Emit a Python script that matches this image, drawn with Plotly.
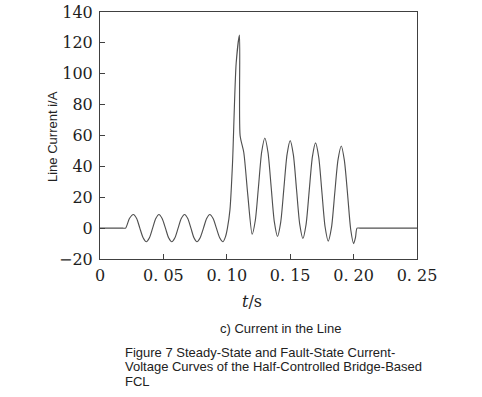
import plotly.graph_objects as go

# time (s) and line current (A)
t_s = [0, 0.0100, 0.0180, 0.0202, 0.0232, 0.0263, 0.0289, 0.0314, 0.0340, 0.0365, 0.0390,
       0.0415, 0.0440, 0.0465, 0.0490, 0.0516, 0.0541, 0.0566, 0.0591, 0.0616, 0.0641,
       0.0667, 0.0692, 0.0717, 0.0741, 0.0765, 0.0790, 0.0816, 0.0841, 0.0866, 0.0892,
       0.0918, 0.0944, 0.0970, 0.0990,
       0.1005, 0.1025, 0.1045, 0.1074, 0.1100, 0.1105, 0.1134, 0.1165, 0.1200,
       0.1225, 0.1250, 0.1275, 0.1300, 0.1325, 0.1350, 0.1375, 0.1400,
       0.1425, 0.1450, 0.1475, 0.1500, 0.1525, 0.1550, 0.1575, 0.1600,
       0.1625, 0.1650, 0.1675, 0.1700, 0.1725, 0.1750, 0.1775, 0.1800,
       0.1826, 0.1851, 0.1877, 0.1903, 0.1927, 0.1953, 0.1977, 0.2000,
       0.2015, 0.2027, 0.2050, 0.2150, 0.2500]
i_A = [0, 0, 0, 0, 6.2, 8.8, 6.2, 0, -6.2, -8.8, -6.2,
       0, 6.2, 8.8, 6.2, 0, -6.2, -8.8, -6.2, 0, 6.2,
       8.8, 6.2, 0, -6.2, -8.8, -6.2, 0, 6.2, 8.8, 6.2,
       0, -6.2, -8.8, -5.5,
       0, 12, 42, 107, 125, 60, 49, 22, -4,
       5.1, 27, 49.3, 58.4, 49, 26.5, 4, -5.4,
       3.7, 25.6, 47.6, 56.7, 47.4, 25, 2.6, -6.7,
       2.3, 24.3, 46.2, 55.2, 45.9, 23.4, 0.9, -8.4,
       0.6, 22.4, 44.2, 53.2, 44, 21.5, -0.7, -10,
       -6, 0, 0, 0, 0]

x_tickvals = [0, 0.05, 0.10, 0.15, 0.20, 0.25]
x_ticktext = ["0", "0. 05", "0. 10", "0. 15", "0. 20", "0. 25"]
y_tickvals = [-20, 0, 20, 40, 60, 80, 100, 120, 140]

W, H = 482, 397
L, T = 100, 12
pw, ph = 317, 247
R, B = W - L - pw, H - T - ph

def px(x):  # screen x -> paper
    return (x - L) / pw

def py(y):  # screen y -> paper
    return (T + ph - y) / ph

fig = go.Figure()
fig.add_trace(go.Scatter(
    x=t_s, y=i_A, mode="lines",
    line=dict(color="#505050", width=1.15, shape="spline", smoothing=0.7),
    hoverinfo="skip", showlegend=False,
))

axis_common = dict(
    showgrid=False, zeroline=False, showline=True, linecolor="#404040", linewidth=1,
    mirror=True, ticks="inside", ticklen=5, tickcolor="#404040", tickwidth=1,
    automargin=False, ticklabeloverflow="allow",
    tickfont=dict(family="DejaVu Serif", size=16, color="#1e1e1e"),
)

fig.update_layout(
    width=W, height=H,
    margin=dict(l=L, r=R, t=T, b=B),
    paper_bgcolor="white", plot_bgcolor="white",
    xaxis=dict(range=[0, 0.25], tickvals=x_tickvals, ticktext=x_ticktext,
               ticklabelstandoff=2, **axis_common),
    yaxis=dict(range=[-20, 140], tickvals=y_tickvals, ticklabelstandoff=3,
               **axis_common),
    annotations=[
        dict(text="<i>t</i>/s", x=px(252), y=py(301), xref="paper", yref="paper",
             showarrow=False, xanchor="center", yanchor="middle",
             font=dict(family="DejaVu Serif", size=16, color="#1e1e1e")),
        dict(text="Line Current i/A", x=px(52), y=py(137), xref="paper", yref="paper",
             showarrow=False, xanchor="center", yanchor="middle", textangle=-90,
             font=dict(family="Liberation Sans", size=13, color="#222")),
        dict(text="c) Current in the Line", x=px(280), y=py(328), xref="paper", yref="paper",
             showarrow=False, xanchor="center", yanchor="middle",
             font=dict(family="Liberation Sans", size=13, color="#222")),
        dict(text="Figure 7 Steady-State and Fault-State Current-", x=px(123), y=py(352),
             xref="paper", yref="paper", showarrow=False, xanchor="left", yanchor="middle",
             font=dict(family="Liberation Sans", size=13, color="#222")),
        dict(text="Voltage Curves of the Half-Controlled Bridge-Based", x=px(123), y=py(366.5),
             xref="paper", yref="paper", showarrow=False, xanchor="left", yanchor="middle",
             font=dict(family="Liberation Sans", size=13, color="#222")),
        dict(text="FCL", x=px(123), y=py(381), xref="paper", yref="paper",
             showarrow=False, xanchor="left", yanchor="middle",
             font=dict(family="Liberation Sans", size=13, color="#222")),
    ],
)

fig.write_html("out.html", config={"displayModeBar": False},
               post_script="document.body.style.margin='0px';")
